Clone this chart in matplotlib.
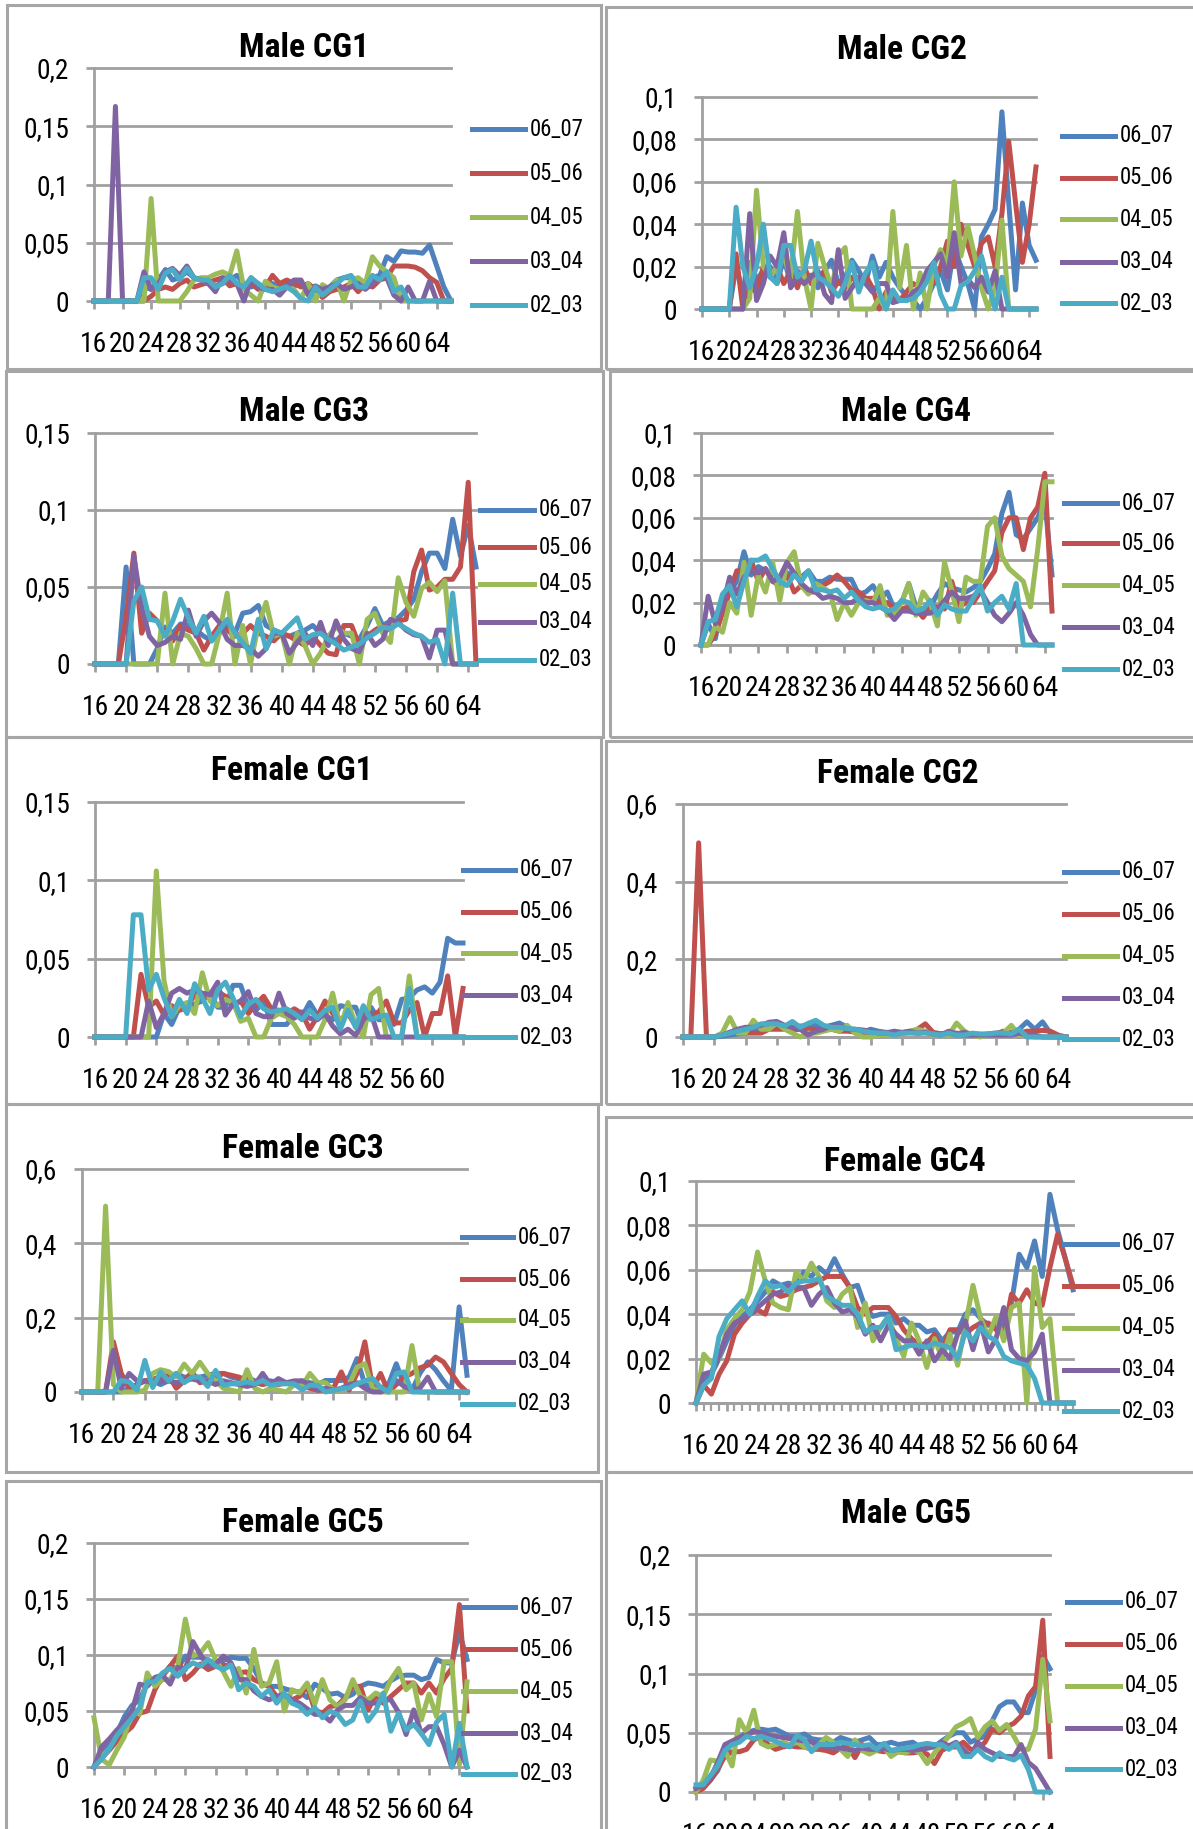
"""Age profiles per cohort group: ten small line panels in one sheet."""

import matplotlib

matplotlib.use("Agg")
import matplotlib.pyplot as plt  # noqa: E402
from matplotlib import font_manager as fm  # noqa: E402
from matplotlib.lines import Line2D  # noqa: E402
from matplotlib.patches import Rectangle  # noqa: E402
from matplotlib.textpath import TextPath  # noqa: E402

W, H = 1193, 1829

SERIES_NAMES = ["06_07", "05_06", "04_05", "03_04", "02_03"]
SERIES_COLORS = ["#4F81BD", "#C0504D", "#9BBB59", "#8064A2", "#4BACC6"]
GRID = "#A0A0A0"

ages_16_66 = list(range(16, 67))
ages_16_65 = list(range(16, 66))
ages_16_64 = list(range(16, 65))

# ---- Male CG1 (16..66)
male_cg1_0607 = [0, 0, 0, 0, 0, 0, 0, 0.012, 0.01, 0.018,
                 0.027, 0.018, 0.02, 0.025, 0.02, 0.018, 0.015, 0.013, 0.015, 0.018,
                 0.022, 0.015, 0.012, 0.015, 0.01, 0.015, 0.012, 0.015, 0.013, 0.015,
                 0.008, 0.013, 0.01, 0.012, 0.018, 0.02, 0.02, 0.018, 0.016, 0.02,
                 0.022, 0.038, 0.034, 0.043, 0.042, 0.042, 0.041, 0.048, 0.03, 0.012,
                 0]
male_cg1_0506 = [0, 0, 0, 0, 0, 0, 0, 0, 0.004, 0.01,
                 0.012, 0.01, 0.015, 0.018, 0.012, 0.014, 0.016, 0.018, 0.02, 0.013,
                 0.015, 0.012, 0.015, 0.01, 0.012, 0.022, 0.015, 0.018, 0.015, 0.012,
                 0.015, 0.01, 0.003, 0.008, 0.01, 0.012, 0.015, 0.008, 0.015, 0.012,
                 0.018, 0.02, 0.03, 0.03, 0.03, 0.029, 0.026, 0.02, 0.016, 0,
                 0]
male_cg1_0405 = [0, 0, 0, 0, 0, 0, 0, 0, 0.088, 0,
                 0, 0, 0, 0.008, 0.018, 0.02, 0.02, 0.023, 0.025, 0.022,
                 0.043, 0.01, 0.005, 0, 0.017, 0.012, 0.01, 0.012, 0.01, 0.002,
                 0.015, 0, 0.014, 0.01, 0.018, 0, 0.018, 0.02, 0.015, 0.038,
                 0.03, 0.025, 0.02, 0, 0, 0, 0, 0, 0, 0,
                 0]
male_cg1_0304 = [0, 0, 0, 0.167, 0, 0, 0, 0.025, 0.01, 0.015,
                 0.025, 0.028, 0.022, 0.03, 0.02, 0.018, 0.015, 0.008, 0.02, 0.018,
                 0.015, 0, 0.02, 0.012, 0.01, 0.01, 0.005, 0.012, 0.018, 0.018,
                 0.005, 0.012, 0.01, 0.012, 0.015, 0.01, 0.012, 0.015, 0.01, 0.015,
                 0.02, 0.02, 0.005, 0, 0.012, 0, 0, 0.017, 0, 0,
                 0]
male_cg1_0203 = [0, 0, 0, 0, 0, 0, 0, 0.02, 0.02, 0.01,
                 0.024, 0.027, 0.018, 0.028, 0.02, 0.018, 0.018, 0.012, 0.015, 0.022,
                 0.015, 0.012, 0.02, 0.015, 0.01, 0.008, 0.01, 0.012, 0.008, 0.002,
                 0, 0.012, 0.005, 0.01, 0.015, 0.02, 0.022, 0.012, 0.012, 0.022,
                 0.018, 0.025, 0.008, 0.012, 0, 0, 0, 0, 0, 0,
                 0]

# ---- Male CG2 (16..65)
male_cg2_0607 = [0, 0, 0, 0, 0, 0.02, 0.008, 0.022, 0.014, 0.018,
                 0.02, 0.012, 0.024, 0.012, 0.018, 0.012, 0.016, 0.01, 0.018, 0.023,
                 0.012, 0.015, 0.023, 0.018, 0.012, 0.025, 0.015, 0.022, 0.015, 0.01,
                 0.006, 0.004, 0, 0.005, 0.012, 0.018, 0.009, 0.029, 0.02, 0.012,
                 0, 0.034, 0.04, 0.047, 0.093, 0.05, 0.009, 0.05, 0.03, 0.023]
male_cg2_0506 = [0, 0, 0, 0, 0, 0.026, 0, 0.01, 0.008, 0.02,
                 0.015, 0.02, 0.012, 0.018, 0.01, 0.02, 0.012, 0.015, 0.018, 0.008,
                 0.013, 0.01, 0.015, 0.012, 0.016, 0.01, 0, 0.008, 0.005, 0.004,
                 0.008, 0.012, 0.01, 0.015, 0.012, 0.02, 0.032, 0.02, 0.04, 0.03,
                 0.02, 0.031, 0.034, 0.02, 0.045, 0.079, 0.05, 0.022, 0.04, 0.067]
male_cg2_0405 = [0, 0, 0, 0, 0, 0, 0, 0.005, 0.056, 0.02,
                 0.015, 0.02, 0.025, 0.015, 0.046, 0.015, 0, 0.031, 0.02, 0.01,
                 0.025, 0.029, 0, 0, 0, 0, 0.005, 0, 0.046, 0.01,
                 0.03, 0, 0.017, 0, 0.02, 0.028, 0.02, 0.06, 0.025, 0.039,
                 0.025, 0.01, 0, 0.01, 0.042, 0, 0, 0, 0, 0]
male_cg2_0304 = [0, 0, 0, 0, 0, 0, 0, 0.045, 0.004, 0.012,
                 0.025, 0.02, 0.036, 0.01, 0.015, 0.012, 0.015, 0.018, 0.007, 0.003,
                 0.028, 0.005, 0.01, 0.015, 0.012, 0.008, 0.012, 0.012, 0.003, 0.004,
                 0.004, 0.008, 0.01, 0.018, 0.022, 0.026, 0.015, 0.036, 0.012, 0.014,
                 0.01, 0.015, 0.008, 0.018, 0, 0, 0, 0, 0, 0]
male_cg2_0203 = [0, 0, 0, 0, 0, 0.048, 0.02, 0.01, 0.02, 0.04,
                 0.015, 0.012, 0.03, 0.03, 0.015, 0.018, 0.032, 0.015, 0.013, 0.01,
                 0.006, 0.012, 0.022, 0.008, 0.017, 0.022, 0.008, 0, 0.009, 0.004,
                 0.004, 0.005, 0.008, 0.013, 0.022, 0.007, 0, 0, 0.011, 0.013,
                 0.018, 0.025, 0.012, 0, 0.015, 0, 0, 0, 0, 0]

# ---- Male CG3 (16..65)
male_cg3_0607 = [0, 0, 0, 0, 0.063, 0, 0, 0, 0.01, 0.024,
                 0.02, 0.026, 0.025, 0.022, 0.018, 0.015, 0.02, 0.025, 0.02, 0.033,
                 0.034, 0.038, 0.025, 0.022, 0.02, 0.018, 0.02, 0.022, 0.025, 0.02,
                 0.018, 0.015, 0.02, 0.018, 0.016, 0.025, 0.036, 0.025, 0.028, 0.03,
                 0.035, 0.042, 0.06, 0.072, 0.072, 0.062, 0.094, 0.07, 0.09, 0.063]
male_cg3_0506 = [0, 0, 0, 0, 0.03, 0.072, 0.02, 0.033, 0.028, 0.02,
                 0.015, 0.025, 0.022, 0.02, 0.009, 0.018, 0.025, 0.022, 0.018, 0.02,
                 0.025, 0.02, 0.018, 0.015, 0.02, 0.018, 0.015, 0.012, 0.018, 0.012,
                 0.007, 0.006, 0.025, 0.025, 0.012, 0.018, 0.022, 0.025, 0.022, 0.028,
                 0.029, 0.06, 0.074, 0.048, 0.05, 0.055, 0.055, 0.063, 0.118, 0]
male_cg3_0405 = [0, 0, 0, 0, 0, 0, 0, 0, 0, 0.046,
                 0, 0.02, 0.018, 0.01, 0, 0, 0.02, 0.046, 0, 0.025,
                 0, 0.025, 0.04, 0.018, 0.02, 0, 0.02, 0.012, 0, 0.007,
                 0.018, 0.024, 0.02, 0.02, 0, 0.029, 0.033, 0.02, 0.014, 0.056,
                 0.04, 0.031, 0.049, 0.053, 0.047, 0.054, 0, 0, 0, 0]
male_cg3_0304 = [0, 0, 0, 0, 0, 0.07, 0.037, 0.018, 0.012, 0.014,
                 0.018, 0.016, 0.035, 0.018, 0.028, 0.033, 0.027, 0.016, 0.012, 0.012,
                 0.01, 0.005, 0.01, 0.02, 0.02, 0.007, 0.014, 0.02, 0.012, 0.027,
                 0.012, 0.028, 0.016, 0.01, 0.008, 0.02, 0.012, 0.016, 0.029, 0.027,
                 0.022, 0.019, 0.018, 0.004, 0.022, 0.022, 0, 0, 0, 0]
male_cg3_0203 = [0, 0, 0, 0, 0, 0.041, 0.05, 0.029, 0.028, 0.018,
                 0.028, 0.042, 0.03, 0.02, 0.031, 0.015, 0.022, 0.029, 0.02, 0.014,
                 0.007, 0.029, 0.01, 0.022, 0.02, 0.025, 0.03, 0.016, 0.019, 0.02,
                 0.016, 0.013, 0.009, 0.011, 0.013, 0.017, 0.02, 0.024, 0.023, 0.026,
                 0.023, 0.02, 0.018, 0.014, 0.016, 0, 0.046, 0, 0, 0]

# ---- Male CG4 (16..65)
male_cg4_0607 = [0, 0.01, 0.003, 0.02, 0.025, 0.03, 0.044, 0.033, 0.037, 0.035,
                 0.033, 0.03, 0.034, 0.033, 0.032, 0.035, 0.03, 0.03, 0.032, 0.031,
                 0.031, 0.031, 0.024, 0.025, 0.028, 0.022, 0.025, 0.017, 0.02, 0.029,
                 0.018, 0.017, 0.018, 0.024, 0.029, 0.027, 0.026, 0.025, 0.027, 0.03,
                 0.036, 0.043, 0.062, 0.072, 0.052, 0.05, 0.055, 0.06, 0.068, 0.033]
male_cg4_0506 = [0, 0, 0.005, 0.015, 0.025, 0.035, 0.035, 0.04, 0.03, 0.036,
                 0.03, 0.028, 0.033, 0.025, 0.028, 0.025, 0.025, 0.028, 0.03, 0.033,
                 0.03, 0.026, 0.025, 0.022, 0.022, 0.02, 0.02, 0.017, 0.017, 0.018,
                 0.017, 0.013, 0.018, 0.018, 0.017, 0.03, 0.018, 0.02, 0.02, 0.025,
                 0.03, 0.035, 0.053, 0.06, 0.06, 0.045, 0.06, 0.065, 0.081, 0.016]
male_cg4_0405 = [0, 0, 0.009, 0.006, 0.02, 0.015, 0.039, 0.014, 0.033, 0.025,
                 0.039, 0.021, 0.039, 0.044, 0.028, 0.024, 0.029, 0.027, 0.025, 0.012,
                 0.02, 0.014, 0.02, 0.021, 0.02, 0.028, 0.014, 0.015, 0.02, 0.029,
                 0.014, 0.025, 0.02, 0.009, 0.039, 0.026, 0.011, 0.032, 0.03, 0.03,
                 0.056, 0.06, 0.042, 0.036, 0.033, 0.03, 0.018, 0.045, 0.077, 0.077]
male_cg4_0304 = [0, 0.023, 0.01, 0.018, 0.032, 0.024, 0.032, 0.035, 0.034, 0.036,
                 0.03, 0.032, 0.039, 0.034, 0.029, 0.026, 0.025, 0.022, 0.023, 0.022,
                 0.02, 0.02, 0.022, 0.02, 0.02, 0.018, 0.016, 0.012, 0.016, 0.016,
                 0.015, 0.015, 0.015, 0.017, 0.021, 0.025, 0.022, 0.022, 0.023, 0.026,
                 0.02, 0.014, 0.011, 0.015, 0.02, 0.014, 0.005, 0, 0, 0]
male_cg4_0203 = [0, 0.011, 0.012, 0.024, 0.028, 0.018, 0.03, 0.04, 0.04, 0.042,
                 0.036, 0.03, 0.028, 0.033, 0.03, 0.035, 0.026, 0.026, 0.025, 0.026,
                 0.022, 0.025, 0.021, 0.018, 0.017, 0.018, 0.016, 0.017, 0.021, 0.02,
                 0.016, 0.017, 0.021, 0.014, 0.019, 0.017, 0.016, 0.016, 0.022, 0.028,
                 0.016, 0.02, 0.023, 0.017, 0.029, 0, 0, 0, 0, 0]

# ---- Female CG1 (16..64)
female_cg1_0607 = [0, 0, 0, 0, 0, 0, 0, 0, 0, 0.015,
                   0.008, 0.019, 0.017, 0.021, 0.023, 0.028, 0.019, 0.019, 0.033, 0.033,
                   0.019, 0.017, 0.023, 0.008, 0.008, 0.008, 0.015, 0.013, 0.022, 0.014,
                   0.014, 0.011, 0.02, 0.019, 0.019, 0.006, 0.019, 0.011, 0.011, 0.008,
                   0.024, 0.025, 0.03, 0.032, 0.028, 0.035, 0.063, 0.06, 0.06]
female_cg1_0506 = [0, 0, 0, 0, 0, 0, 0.04, 0.019, 0.023, 0.014,
                   0.02, 0.017, 0.019, 0.027, 0.025, 0.027, 0.029, 0.026, 0.02, 0.023,
                   0.015, 0.021, 0.026, 0.018, 0.017, 0.015, 0.018, 0.015, 0.005, 0.013,
                   0.023, 0.015, 0.011, 0.015, 0.007, 0.015, 0.014, 0.016, 0.023, 0.009,
                   0.009, 0.017, 0.022, 0, 0.015, 0.015, 0.039, 0, 0.031]
female_cg1_0405 = [0, 0, 0, 0, 0, 0, 0, 0, 0.106, 0.036,
                   0.013, 0.02, 0.022, 0.015, 0.041, 0.023, 0.02, 0.024, 0.022, 0.01,
                   0.012, 0, 0, 0.012, 0.015, 0.013, 0.008, 0, 0, 0,
                   0.011, 0.028, 0.006, 0.022, 0.008, 0, 0.027, 0.031, 0, 0,
                   0, 0.039, 0, 0, 0, 0, 0, 0, 0]
female_cg1_0304 = [0, 0, 0, 0, 0, 0, 0, 0.023, 0.006, 0.015,
                   0.028, 0.031, 0.028, 0.03, 0.028, 0.027, 0.035, 0.014, 0.021, 0.023,
                   0.029, 0.015, 0.013, 0.013, 0.028, 0.015, 0.012, 0.016, 0.012, 0.011,
                   0.015, 0.007, 0.002, 0.005, 0.001, 0.011, 0.015, 0, 0, 0,
                   0, 0, 0, 0, 0, 0, 0, 0, 0]
female_cg1_0203 = [0, 0, 0, 0, 0, 0.078, 0.078, 0.03, 0.04, 0.025,
                   0.013, 0.024, 0.015, 0.034, 0.025, 0.015, 0.03, 0.035, 0.025, 0.013,
                   0.021, 0.024, 0.018, 0.016, 0.017, 0.018, 0.015, 0.011, 0.017, 0.012,
                   0.017, 0.019, 0.005, 0.017, 0.006, 0.02, 0.011, 0.013, 0.014, 0,
                   0, 0.031, 0, 0, 0, 0, 0, 0, 0]

# ---- Female CG2 (16..65)
female_cg2_0607 = [0, 0, 0, 0, 0, 0.002, 0.005, 0.008, 0.01, 0.015,
                   0.02, 0.022, 0.025, 0.022, 0.025, 0.028, 0.03, 0.03, 0.025, 0.03,
                   0.036, 0.025, 0.015, 0.012, 0.02, 0.015, 0.012, 0.012, 0.01, 0.012,
                   0.01, 0.012, 0.01, 0.008, 0.01, 0.005, 0.008, 0.005, 0.005, 0.008,
                   0.01, 0.01, 0.012, 0.02, 0.039, 0.02, 0.039, 0.01, 0, 0]
female_cg2_0506 = [0, 0, 0.5, 0, 0, 0.005, 0.012, 0.015, 0.01, 0.01,
                   0.01, 0.02, 0.02, 0.02, 0.018, 0.02, 0.02, 0.02, 0.018, 0.02,
                   0.015, 0.015, 0.013, 0.012, 0.01, 0.01, 0.01, 0.01, 0.01, 0.012,
                   0.02, 0.034, 0.012, 0.008, 0.01, 0.01, 0.005, 0.005, 0.005, 0.005,
                   0.008, 0.015, 0.01, 0.01, 0.015, 0.015, 0.017, 0.015, 0.005, 0]
female_cg2_0405 = [0, 0, 0, 0, 0, 0.01, 0.05, 0.01, 0.01, 0.043,
                   0.02, 0.02, 0.036, 0.02, 0.01, 0, 0.01, 0.01, 0.015, 0.02,
                   0.015, 0.03, 0.01, 0, 0, 0.005, 0.005, 0.005, 0.01, 0.015,
                   0.02, 0.015, 0.005, 0.005, 0.005, 0.036, 0.015, 0.005, 0, 0.005,
                   0.005, 0.01, 0.03, 0.005, 0.005, 0, 0, 0, 0, 0]
female_cg2_0304 = [0, 0, 0, 0, 0, 0.005, 0.012, 0.02, 0.025, 0.025,
                   0.03, 0.038, 0.04, 0.03, 0.025, 0.02, 0.005, 0.015, 0.02, 0.03,
                   0.028, 0.02, 0.02, 0.018, 0.015, 0.01, 0.01, 0.015, 0.012, 0.015,
                   0.01, 0.012, 0.008, 0.005, 0.015, 0.008, 0.012, 0.005, 0.005, 0.005,
                   0.005, 0.005, 0.005, 0.01, 0.005, 0.005, 0, 0, 0, 0]
female_cg2_0203 = [0, 0, 0, 0, 0, 0.005, 0.01, 0.015, 0.02, 0.025,
                   0.034, 0.034, 0.034, 0.028, 0.04, 0.025, 0.035, 0.043, 0.03, 0.025,
                   0.025, 0.022, 0.02, 0.015, 0.012, 0.01, 0.01, 0.005, 0.01, 0.01,
                   0.01, 0.01, 0.008, 0.005, 0.01, 0.005, 0.005, 0.01, 0.008, 0.008,
                   0.01, 0.01, 0.008, 0.02, 0, 0, 0, 0, 0, 0]

# ---- Female GC3 (16..65)
female_gc3_0607 = [0, 0, 0, 0, 0, 0, 0.01, 0.02, 0.03, 0.03,
                   0.02, 0.03, 0.05, 0.04, 0.04, 0.04, 0.045, 0.05, 0.05, 0.04,
                   0.035, 0.04, 0.03, 0.025, 0.03, 0.025, 0.025, 0.025, 0.03, 0.025,
                   0.02, 0.031, 0.031, 0.031, 0.04, 0.09, 0.02, 0.015, 0.01, 0.02,
                   0.076, 0.018, 0.005, 0.05, 0.081, 0.06, 0.03, 0.004, 0.229, 0.045]
female_gc3_0506 = [0, 0, 0, 0, 0.135, 0.05, 0.01, 0.02, 0.03, 0.035,
                   0.04, 0.045, 0.01, 0.03, 0.054, 0.025, 0.03, 0.04, 0.05, 0.045,
                   0.04, 0.03, 0.025, 0.02, 0.025, 0.02, 0.025, 0.02, 0.015, 0.01,
                   0.005, 0.005, 0.01, 0.054, 0.005, 0.05, 0.135, 0.01, 0.05, 0,
                   0.02, 0.04, 0.05, 0.065, 0.072, 0.094, 0.081, 0.05, 0.02, 0]
female_gc3_0405 = [0, 0, 0, 0.5, 0.02, 0, 0, 0, 0.005, 0.05,
                   0.06, 0.055, 0.04, 0.075, 0.05, 0.08, 0.05, 0.03, 0.01, 0.005,
                   0, 0.06, 0.01, 0, 0.01, 0.005, 0, 0.02, 0.015, 0.05,
                   0.025, 0.025, 0.005, 0.005, 0.02, 0.067, 0.076, 0.01, 0, 0,
                   0, 0, 0.125, 0, 0, 0, 0, 0, 0, 0]
female_gc3_0304 = [0, 0, 0, 0, 0.112, 0.01, 0.05, 0.03, 0.03, 0.025,
                   0.03, 0.03, 0.025, 0.03, 0.035, 0.03, 0.03, 0.02, 0.03, 0.025,
                   0.02, 0.015, 0.02, 0.05, 0.02, 0.036, 0.025, 0.03, 0.03, 0.02,
                   0.005, 0.01, 0.005, 0.01, 0.02, 0.025, 0.01, 0, 0, 0.01,
                   0.031, 0.015, 0.005, 0.01, 0.04, 0, 0, 0, 0, 0]
female_gc3_0203 = [0, 0, 0, 0, 0, 0.031, 0.027, 0.005, 0.085, 0.012,
                   0.054, 0.03, 0.05, 0.025, 0.04, 0.04, 0.015, 0.058, 0.018, 0.022,
                   0.022, 0.027, 0.022, 0.031, 0.018, 0.022, 0.022, 0.022, 0.006, 0.018,
                   0.018, 0, 0.005, 0.009, 0.011, 0.022, 0.03, 0.036, 0.013, 0,
                   0.05, 0.054, 0, 0, 0, 0, 0, 0, 0, 0]

# ---- Female GC4 (16..65)
female_gc4_0607 = [0, 0.01, 0.013, 0.02, 0.028, 0.035, 0.039, 0.042, 0.046, 0.05,
                   0.055, 0.053, 0.054, 0.053, 0.059, 0.057, 0.061, 0.058, 0.065, 0.058,
                   0.052, 0.053, 0.043, 0.039, 0.04, 0.04, 0.036, 0.038, 0.035, 0.035,
                   0.032, 0.033, 0.028, 0.032, 0.032, 0.04, 0.042, 0.038, 0.035, 0.035,
                   0.035, 0.045, 0.067, 0.061, 0.073, 0.057, 0.094, 0.078, 0.065, 0.051]
female_gc4_0506 = [0, 0.008, 0.004, 0.013, 0.019, 0.031, 0.036, 0.04, 0.042, 0.04,
                   0.05, 0.048, 0.049, 0.051, 0.052, 0.053, 0.055, 0.057, 0.057, 0.057,
                   0.052, 0.043, 0.04, 0.043, 0.043, 0.043, 0.039, 0.033, 0.029, 0.026,
                   0.027, 0.031, 0.024, 0.033, 0.033, 0.031, 0.034, 0.036, 0.036, 0.033,
                   0.031, 0.049, 0.045, 0.051, 0.045, 0.044, 0.061, 0.076, 0.065, 0.053]
female_gc4_0405 = [0, 0.022, 0.018, 0.02, 0.033, 0.038, 0.042, 0.05, 0.068, 0.055,
                   0.045, 0.043, 0.042, 0.059, 0.055, 0.063, 0.057, 0.046, 0.043, 0.049,
                   0.052, 0.034, 0.045, 0.028, 0.034, 0.039, 0.029, 0.021, 0.036, 0.028,
                   0.016, 0.029, 0.02, 0.031, 0.017, 0.035, 0.053, 0.038, 0.03, 0.039,
                   0.028, 0.043, 0.045, 0, 0.061, 0.034, 0.038, 0, 0, 0]
female_gc4_0304 = [0, 0.013, 0.014, 0.021, 0.031, 0.036, 0.038, 0.04, 0.043, 0.046,
                   0.049, 0.05, 0.053, 0.052, 0.052, 0.044, 0.049, 0.052, 0.045, 0.041,
                   0.042, 0.039, 0.031, 0.035, 0.028, 0.035, 0.031, 0.028, 0.028, 0.022,
                   0.028, 0.019, 0.024, 0.02, 0.031, 0.037, 0.024, 0.036, 0.023, 0.029,
                   0.043, 0.024, 0.02, 0.019, 0.023, 0.031, 0, 0, 0, 0]
female_gc4_0203 = [0, 0.008, 0.011, 0.03, 0.038, 0.042, 0.046, 0.04, 0.048, 0.055,
                   0.052, 0.053, 0.05, 0.054, 0.055, 0.055, 0.056, 0.048, 0.046, 0.044,
                   0.044, 0.04, 0.032, 0.034, 0.034, 0.039, 0.024, 0.025, 0.026, 0.026,
                   0.025, 0.027, 0.026, 0.025, 0.02, 0.032, 0.028, 0.034, 0.03, 0.028,
                   0.021, 0.019, 0.018, 0.017, 0.011, 0, 0, 0, 0, 0]

# ---- Female GC5 (16..65)
female_gc5_0607 = [0, 0.015, 0.022, 0.03, 0.045, 0.055, 0.06, 0.075, 0.078, 0.082,
                   0.09, 0.088, 0.099, 0.098, 0.098, 0.095, 0.093, 0.095, 0.098, 0.097,
                   0.097, 0.088, 0.075, 0.072, 0.072, 0.07, 0.068, 0.067, 0.062, 0.074,
                   0.07, 0.065, 0.066, 0.062, 0.065, 0.072, 0.075, 0.074, 0.072, 0.077,
                   0.081, 0.082, 0.082, 0.078, 0.08, 0.096, 0.093, 0.093, 0.12, 0.096]
female_gc5_0506 = [0, 0.008, 0.015, 0.023, 0.03, 0.036, 0.048, 0.05, 0.069, 0.081,
                   0.09, 0.099, 0.078, 0.084, 0.092, 0.087, 0.09, 0.091, 0.09, 0.084,
                   0.085, 0.078, 0.075, 0.072, 0.063, 0.063, 0.06, 0.063, 0.072, 0.051,
                   0.048, 0.054, 0.055, 0.062, 0.072, 0.072, 0.051, 0.064, 0.057, 0.063,
                   0.069, 0.075, 0.075, 0.066, 0.075, 0.066, 0.079, 0.088, 0.145, 0.05]
female_gc5_0405 = [0.044, 0.007, 0.002, 0.015, 0.027, 0.052, 0.047, 0.084, 0.072, 0.078,
                   0.078, 0.09, 0.132, 0.099, 0.102, 0.111, 0.095, 0.085, 0.072, 0.088,
                   0.066, 0.105, 0.072, 0.075, 0.094, 0.05, 0.069, 0.066, 0.075, 0.056,
                   0.078, 0.06, 0.054, 0.06, 0.078, 0.063, 0.06, 0.066, 0.063, 0.078,
                   0.088, 0.069, 0.075, 0.042, 0.065, 0.045, 0.094, 0.094, 0.002, 0.076]
female_gc5_0304 = [0, 0.018, 0.025, 0.033, 0.04, 0.05, 0.074, 0.072, 0.08, 0.082,
                   0.074, 0.089, 0.087, 0.112, 0.1, 0.09, 0.092, 0.099, 0.093, 0.078,
                   0.078, 0.068, 0.063, 0.06, 0.063, 0.065, 0.06, 0.057, 0.052, 0.047,
                   0.047, 0.041, 0.051, 0.055, 0.055, 0.062, 0.057, 0.057, 0.06, 0.06,
                   0.049, 0.029, 0.051, 0.03, 0.036, 0.036, 0.02, 0, 0.015, 0]
female_gc5_0203 = [0, 0.007, 0.016, 0.028, 0.036, 0.044, 0.053, 0.076, 0.076, 0.084,
                   0.088, 0.081, 0.088, 0.093, 0.09, 0.096, 0.09, 0.087, 0.091, 0.069,
                   0.075, 0.072, 0.063, 0.069, 0.057, 0.066, 0.057, 0.054, 0.047, 0.053,
                   0.044, 0.05, 0.047, 0.038, 0.042, 0.059, 0.041, 0.05, 0.066, 0.032,
                   0.048, 0.033, 0.038, 0.03, 0.02, 0.04, 0.047, 0, 0.039, 0]

# ---- Male CG5 (16..65)
male_cg5_0607 = [0.003, 0.005, 0.01, 0.018, 0.032, 0.042, 0.046, 0.05, 0.052, 0.053,
                 0.052, 0.053, 0.05, 0.047, 0.047, 0.049, 0.045, 0.044, 0.044, 0.042,
                 0.046, 0.044, 0.042, 0.044, 0.046, 0.04, 0.04, 0.042, 0.04, 0.041,
                 0.042, 0.038, 0.037, 0.038, 0.043, 0.047, 0.05, 0.05, 0.042, 0.045,
                 0.047, 0.06, 0.072, 0.076, 0.076, 0.067, 0.067, 0.086, 0.115, 0.104]
male_cg5_0506 = [0, 0.003, 0.01, 0.02, 0.03, 0.034, 0.034, 0.036, 0.044, 0.047,
                 0.04, 0.036, 0.038, 0.039, 0.038, 0.038, 0.036, 0.036, 0.035, 0.033,
                 0.037, 0.039, 0.029, 0.04, 0.037, 0.035, 0.034, 0.035, 0.034, 0.033,
                 0.033, 0.034, 0.032, 0.024, 0.035, 0.038, 0.038, 0.042, 0.036, 0.036,
                 0.042, 0.053, 0.05, 0.055, 0.058, 0.064, 0.081, 0.089, 0.145, 0.03]
male_cg5_0405 = [0, 0.01, 0.027, 0.026, 0.035, 0.022, 0.061, 0.05, 0.069, 0.041,
                 0.038, 0.04, 0.042, 0.04, 0.042, 0.038, 0.037, 0.04, 0.046, 0.042,
                 0.036, 0.03, 0.044, 0.035, 0.032, 0.035, 0.038, 0.03, 0.034, 0.033,
                 0.036, 0.033, 0.024, 0.033, 0.04, 0.047, 0.055, 0.058, 0.062, 0.046,
                 0.055, 0.06, 0.052, 0.057, 0.047, 0.036, 0.036, 0.053, 0.112, 0.06]
male_cg5_0304 = [0.003, 0.006, 0.012, 0.025, 0.04, 0.043, 0.046, 0.048, 0.051, 0.05,
                 0.048, 0.047, 0.046, 0.045, 0.044, 0.043, 0.042, 0.04, 0.038, 0.037,
                 0.037, 0.036, 0.035, 0.037, 0.036, 0.036, 0.037, 0.035, 0.036, 0.036,
                 0.035, 0.036, 0.037, 0.039, 0.042, 0.039, 0.042, 0.036, 0.03, 0.042,
                 0.036, 0.033, 0.03, 0.03, 0.03, 0.04, 0.025, 0.02, 0.01, 0]
male_cg5_0203 = [0.006, 0.006, 0.014, 0.022, 0.035, 0.04, 0.042, 0.047, 0.045, 0.047,
                 0.045, 0.043, 0.04, 0.038, 0.048, 0.044, 0.034, 0.04, 0.04, 0.04,
                 0.042, 0.041, 0.04, 0.039, 0.04, 0.036, 0.041, 0.035, 0.036, 0.037,
                 0.038, 0.04, 0.041, 0.04, 0.04, 0.036, 0.041, 0.03, 0.03, 0.036,
                 0.03, 0.027, 0.033, 0.029, 0.027, 0.031, 0.019, 0, 0, 0]


# layout in pixels: frame box, plot area (left, top, right, bottom), title centre,
# legend line span and legend row positions
PANELS = [
    dict(title="Male CG1", ages=ages_16_66, ymax=0.2, step=0.05, last_label=64,
         series=[male_cg1_0607, male_cg1_0506, male_cg1_0405, male_cg1_0304, male_cg1_0203],
         box=(7, 5, 601, 369), plot=(94, 68, 451, 301), title_xy=(304, 48),
         leg_x=(472, 525), leg_y=(129, 173, 217, 261, 305)),
    dict(title="Male CG2", ages=ages_16_65, ymax=0.1, step=0.02, last_label=64,
         series=[male_cg2_0607, male_cg2_0506, male_cg2_0405, male_cg2_0304, male_cg2_0203],
         box=(606, 7, 1200, 369), plot=(702, 97, 1036, 309), title_xy=(902, 50),
         leg_x=(1062, 1115), leg_y=(136, 178, 219, 262, 303)),
    dict(title="Male CG3", ages=ages_16_65, ymax=0.15, step=0.05, last_label=64,
         series=[male_cg3_0607, male_cg3_0506, male_cg3_0405, male_cg3_0304, male_cg3_0203],
         box=(6, 371, 603, 737), plot=(95, 433, 476, 664), title_xy=(304, 412),
         leg_x=(480, 534), leg_y=(510, 547, 584, 622, 660)),
    dict(title="Male CG4", ages=ages_16_65, ymax=0.1, step=0.02, last_label=64,
         series=[male_cg4_0607, male_cg4_0506, male_cg4_0405, male_cg4_0304, male_cg4_0203],
         box=(610, 371, 1200, 737), plot=(701, 433, 1052, 645), title_xy=(906, 412),
         leg_x=(1064, 1117), leg_y=(503, 543, 585, 627, 669)),
    dict(title="Female CG1", ages=ages_16_64, ymax=0.15, step=0.05, last_label=60,
         series=[female_cg1_0607, female_cg1_0506, female_cg1_0405, female_cg1_0304,
                 female_cg1_0203],
         box=(6, 737, 601, 1104), plot=(95, 802, 463, 1037), title_xy=(292, 771),
         leg_x=(463, 515), leg_y=(870, 912, 953, 995, 1037)),
    dict(title="Female CG2", ages=ages_16_65, ymax=0.6, step=0.2, last_label=64,
         series=[female_cg2_0607, female_cg2_0506, female_cg2_0405, female_cg2_0304,
                 female_cg2_0203],
         box=(606, 741, 1200, 1104), plot=(683, 804, 1066, 1037), title_xy=(898, 774),
         leg_x=(1064, 1117), leg_y=(872, 914, 956, 998, 1039)),
    dict(title="Female GC3", ages=ages_16_65, ymax=0.6, step=0.2, last_label=64,
         series=[female_gc3_0607, female_gc3_0506, female_gc3_0405, female_gc3_0304,
                 female_gc3_0203],
         box=(6, 1104, 598, 1472), plot=(82, 1169, 467, 1392), title_xy=(303, 1149),
         leg_x=(462, 513), leg_y=(1237, 1279, 1320, 1362, 1404)),
    dict(title="Female GC4", ages=ages_16_65, ymax=0.1, step=0.02, last_label=64,
         minor=True,
         series=[female_gc4_0607, female_gc4_0506, female_gc4_0405, female_gc4_0304,
                 female_gc4_0203],
         box=(606, 1117, 1200, 1472), plot=(696, 1181, 1073, 1403), title_xy=(905, 1162),
         leg_x=(1064, 1117), leg_y=(1244, 1286, 1328, 1370, 1411)),
    dict(title="Female GC5", ages=ages_16_65, ymax=0.2, step=0.05, last_label=64,
         series=[female_gc5_0607, female_gc5_0506, female_gc5_0405, female_gc5_0304,
                 female_gc5_0203],
         box=(6, 1481, 601, 1840), plot=(94, 1543, 467, 1767), title_xy=(303, 1523),
         leg_x=(463, 515), leg_y=(1607, 1649, 1691, 1733, 1774)),
    dict(title="Male CG5", ages=ages_16_65, ymax=0.2, step=0.05, last_label=64,
         series=[male_cg5_0607, male_cg5_0506, male_cg5_0405, male_cg5_0304, male_cg5_0203],
         box=(606, 1472, 1200, 1840), plot=(696, 1555, 1050, 1792), title_xy=(906, 1514),
         leg_x=(1067, 1120), leg_y=(1602, 1644, 1686, 1728, 1769)),
]


def pick_narrow_font():
    """Prefer a narrow sans face; fall back to Lato."""
    entries = fm.fontManager.ttflist
    names = {e.name for e in entries}
    for fam in ("Liberation Sans Narrow", "Arial Narrow", "Roboto Condensed",
                "Open Sans Condensed", "Noto Sans Condensed", "DejaVu Sans Condensed"):
        if fam in names:
            return fam, "normal"
    for fam in ("Noto Sans", "Roboto", "Open Sans", "DejaVu Sans", "Inter"):
        if any(e.name == fam and e.stretch != "normal" and "cond" in str(e.stretch)
               for e in entries):
            return fam, "condensed"
    return "Lato", "normal"


FONT, STRETCH = pick_narrow_font()
plt.rcParams["font.family"] = [FONT, "DejaVu Sans"]
plt.rcParams["font.stretch"] = STRETCH


def fit_size(sample, width_px, height_sample, height_px, weight="normal"):
    """Font size (pt) that keeps a sample text within a pixel width and height."""
    prop = fm.FontProperties(family=FONT, stretch=STRETCH, weight=weight, size=72)
    w = TextPath((0, 0), sample, prop=prop).get_extents().width * 100 / 72
    h = TextPath((0, 0), height_sample, prop=prop).get_extents().height * 100 / 72
    return min(72 * width_px / w, 72 * height_px / h)


TICK_SIZE = fit_size("16", 25, "16", 20)
YTICK_SIZE = fit_size("0,15", 50, "0", 20)
TITLE_SIZE = fit_size("Male CG1", 129, "M", 24, weight="bold")
LEGEND_SIZE = fit_size("06_07", 57, "0607", 16.5)


def fx(px):
    return px / W


def fy(px):
    return 1 - px / H


def comma(v):
    return f"{v:g}".replace(".", ",")


def draw_panel(fig, p):
    x0, y0, x1, y1 = p["box"]
    fig.add_artist(Rectangle((fx(x0), fy(y1)), fx(x1 - x0), (y1 - y0) / H,
                             transform=fig.transFigure, fill=False, ec="#A6A6A6", lw=2.2))

    left, top, right, bottom = p["plot"]
    ax = fig.add_axes([fx(left), fy(bottom), fx(right - left), (bottom - top) / H])
    ages = p["ages"]
    ax.set_xlim(ages[0], ages[-1])
    ax.set_ylim(0, p["ymax"])

    nsteps = int(round(p["ymax"] / p["step"]))
    yticks = [round(k * p["step"], 3) for k in range(nsteps + 1)]
    for v in yticks:
        ax.axhline(v, color=GRID, lw=2.0, zorder=1, clip_on=False)

    for vals, color in zip(p["series"], SERIES_COLORS):
        ax.plot(ages, vals, color=color, lw=3.6, solid_joinstyle="round",
                clip_on=False, zorder=3)

    for side in ("top", "right"):
        ax.spines[side].set_visible(False)
    for side in ("left", "bottom"):
        ax.spines[side].set_color(GRID)
        ax.spines[side].set_linewidth(2.0)

    ax.set_yticks(yticks, [comma(v) for v in yticks])
    xt = list(range(16, ages[-1] + 1, 4))
    ax.set_xticks(xt, [str(a) if a <= p["last_label"] else "" for a in xt])
    if p.get("minor"):
        ax.set_xticks(ages, minor=True)
        ax.tick_params(axis="x", which="minor", direction="out", length=5.5,
                       width=1.6, color=GRID)
    ax.tick_params(axis="y", direction="out", length=5.8, width=2.0, color=GRID,
                   pad=12, labelsize=YTICK_SIZE)
    ax.tick_params(axis="x", direction="out", length=5.8, width=2.0, color=GRID,
                   pad=16, labelsize=TICK_SIZE)
    ax.set_facecolor("none")

    tx, ty = p["title_xy"]
    fig.text(fx(tx), fy(ty), p["title"], ha="center", va="center",
             fontsize=TITLE_SIZE, fontweight="bold")

    lx0, lx1 = p["leg_x"]
    for name, color, ly in zip(SERIES_NAMES, SERIES_COLORS, p["leg_y"]):
        fig.add_artist(Line2D([fx(lx0), fx(lx1)], [fy(ly), fy(ly)], color=color,
                              lw=3.6, transform=fig.transFigure))
        fig.text(fx(lx1 + 5), fy(ly), name, ha="left", va="center", fontsize=LEGEND_SIZE)


fig = plt.figure(figsize=(W / 100, H / 100), dpi=100)
fig.patch.set_facecolor("white")
for panel in PANELS:
    assert all(len(s) == len(panel["ages"]) for s in panel["series"]), panel["title"]
    draw_panel(fig, panel)

fig.savefig("out.png", dpi=100)
